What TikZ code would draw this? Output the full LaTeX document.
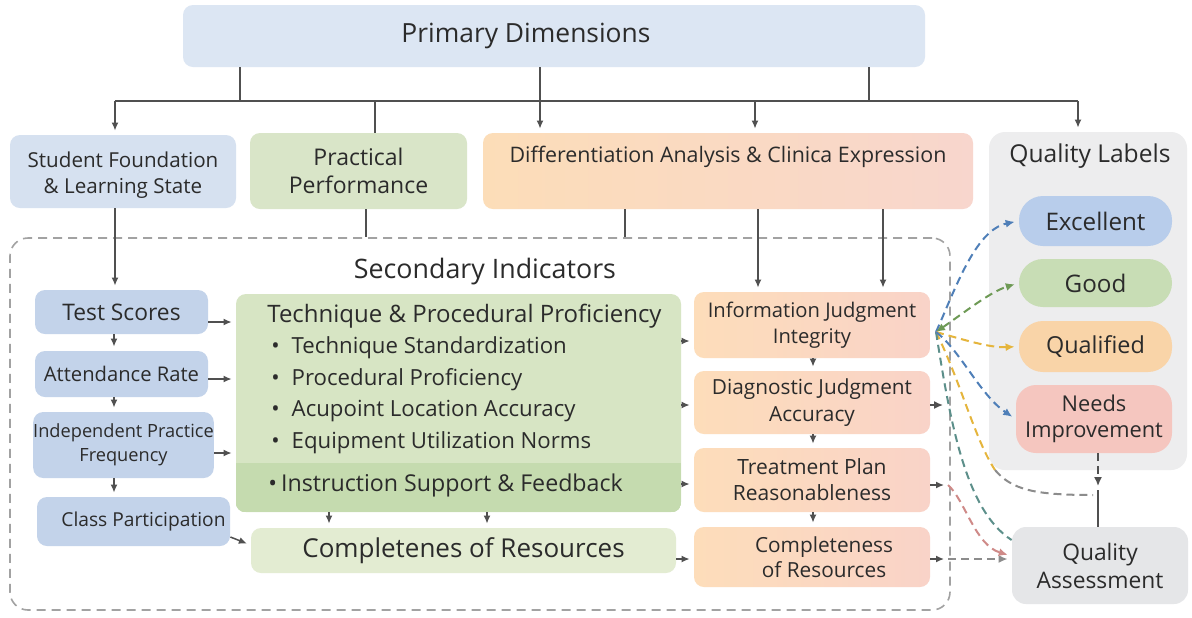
\documentclass[tikz,border=0pt]{standalone}
\usepackage{fontspec}
\setmainfont{Open Sans}
\usepackage{xcolor}
\usepackage{tikz}
\usetikzlibrary{arrows.meta, positioning}

\definecolor{ink}{HTML}{2B2B2B}
\definecolor{wire}{HTML}{505050}
\definecolor{frame}{HTML}{A2A2A2}
\definecolor{primfill}{HTML}{DCE6F3}
\definecolor{stufill}{HTML}{D6E1F0}
\definecolor{pracfill}{HTML}{D9E5C8}
\definecolor{diffL}{HTML}{FCDDB8}
\definecolor{diffR}{HTML}{F8D6CD}
\definecolor{qlfill}{HTML}{EDEDEE}
\definecolor{excfill}{HTML}{B8CDEB}
\definecolor{goodfill}{HTML}{C8DDB5}
\definecolor{qualfill}{HTML}{F9D4A8}
\definecolor{needfill}{HTML}{F5C6BF}
\definecolor{qafill}{HTML}{E5E6E8}
\definecolor{indfill}{HTML}{C3D3EA}
\definecolor{techfill}{HTML}{D7E5C4}
\definecolor{bandfill}{HTML}{C5DBAF}
\definecolor{cmpfill}{HTML}{E3ECD2}
\definecolor{oraL}{HTML}{FDDDBA}
\definecolor{oraR}{HTML}{F9D3C8}
\definecolor{blueline}{HTML}{4F7FB8}
\definecolor{greenline}{HTML}{6E9A55}
\definecolor{yellowline}{HTML}{E5B53C}
\definecolor{pinkline}{HTML}{CF8A88}
\definecolor{tealline}{HTML}{5C8F8A}
\definecolor{grayline}{HTML}{8C8C8C}

\newcommand{\fsz}[2]{\fontsize{#1}{#2}\selectfont}

\begin{document}
\begin{tikzpicture}[x=0.5pt, y=-0.5pt,
        every node/.style={text=ink},
        box/.style={rounded corners=5pt, align=center, inner sep=0pt},
        pill/.style={box, rounded corners=12pt, minimum width=76.5pt},
        orange/.style={box, left color=oraL, right color=oraR, minimum width=118pt},
        indic/.style={box, fill=indfill, minimum width=86.5pt},
        line/.style={draw=wire, line width=0.75pt},
        arr/.style={line, -{Latex[length=4pt, width=3.5pt]}, shorten >=2pt},
        dline/.style={line width=1pt, dash pattern=on 4pt off 2.5pt},
        darr/.style={dline, -{Latex[length=4.5pt, width=4pt]}, shorten >=2pt}
    ]

    \fill[white] (0,0) rectangle (1192,617);
    \useasboundingbox (0,0) rectangle (1192,617);

    % top level
    \node[box, fill=primfill, minimum width=371pt, minimum height=31pt,
          label={[xshift=-14pt, font=\fsz{13.2}{16}]center:Primary Dimensions}] (prim) at (554,36) {};

    \node[box, fill=stufill, minimum width=113pt, minimum height=36.5pt,
          label={[yshift=-2pt, align=center, font=\fsz{10.3}{13}]center:Student Foundation\\\& Learning State}] (stu) at (123,171.5) {};
    \node[box, fill=pracfill, minimum width=108.5pt, minimum height=38pt, font=\fsz{11.5}{14}] (prac) at (358.5,171) {Practical\\Performance};
    \node[box, left color=diffL, right color=diffR, minimum width=245pt, minimum height=38pt,
          label={[yshift=7pt, font=\fsz{10.7}{13}]center:Differentiation Analysis \& Clinica Expression}] (diff) at (728,171) {};

    % label column
    \node[box, fill=qlfill, rounded corners=8pt, minimum width=99pt, minimum height=169pt] (qlab) at (1088,301) {};
    \node[font=\fsz{12.3}{15}] (qltitle) at (1090,156) {Quality Labels};
    \node[pill, fill=excfill, minimum height=25pt, font=\fsz{12.1}{14}] (exc) at (1095.5,221) {Excellent};
    \node[pill, fill=goodfill, minimum height=24pt, font=\fsz{12.1}{14}] (good) at (1095.5,283) {Good};
    \node[pill, fill=qualfill, minimum height=25.5pt, font=\fsz{11.7}{14}] (qual) at (1095.5,346.5) {Qualified};
    \node[box, fill=needfill, rounded corners=10pt, minimum width=78pt, minimum height=34pt, font=\fsz{10.9}{13}] (needs) at (1094,419) {Needs\\Improvement};
    \node[box, fill=qafill, rounded corners=7pt, minimum width=88pt, minimum height=38.5pt, font=\fsz{11.4}{14}] (qa) at (1100,565.5) {Quality\\Assessment};

    % secondary block
    \node[draw=frame, line width=0.8pt, dash pattern=on 4.5pt off 3pt, rounded corners=9pt,
          minimum width=470pt, minimum height=186pt] (sec) at (480,424) {};
    \node[font=\fsz{13.4}{16}] (sectitle) at (485,272) {Secondary Indicators};

    \node[indic, minimum height=22pt, font=\fsz{11.4}{14}] (test) at (121.5,312) {Test Scores};
    \node[indic, minimum height=23pt, font=\fsz{10.1}{12}] (att) at (121.5,374) {Attendance Rate};
    \node[indic, minimum width=88.5pt, minimum height=33pt, font=\fsz{9.1}{12}] (ind) at (123.5,445) {Independent Practice\\Frequency};
    \node[indic, minimum width=96.5pt, minimum height=24.5pt, font=\fsz{9.6}{12}] (class) at (133.5,521.5) {\hspace*{10pt}Class Participation};

    \node[box, fill=techfill, minimum width=222.5pt, minimum height=109pt] (tech) at (458.5,403) {};
    \begin{scope}
        \clip[rounded corners=5pt] (tech.south west) rectangle (tech.north east);
        \fill[bandfill] (tech.south west) rectangle ([yshift=24.5pt]tech.south east);
    \end{scope}
    \node[anchor=west, inner sep=0pt, font=\fsz{12}{14}] (techtitle) at (267,316) {Technique \& Procedural Proficiency};
    \foreach \y/\t [count=\i] in {348/Technique Standardization, 380/Procedural Proficiency,
                                411/Acupoint Location Accuracy, 443/Equipment Utilization Norms}
        \node[anchor=west, inner sep=0pt, font=\fsz{11.1}{13}] (item\i) at (271,\y) {\textbullet\hspace{6pt}\t};
    \node[anchor=west, inner sep=0pt, font=\fsz{11.6}{14}] (instr) at (268,485) {\textbullet\hspace{2pt}Instruction Support \& Feedback};

    \node[box, fill=cmpfill, minimum width=212.5pt, minimum height=22.5pt, font=\fsz{13}{15}] (cmp) at (463.5,550.5) {Completenes of Resources};

    \node[orange, minimum height=33pt, font=\fsz{10.1}{13}] (info) at (812,325) {Information Judgment\\Integrity};
    \node[orange, minimum height=31.5pt, font=\fsz{10.4}{13.5}] (diag) at (812,402.5) {Diagnostic Judgment\\Accuracy};
    \node[orange, minimum height=32pt, font=\fsz{10.5}{13}] (treat) at (812,480) {Treatment Plan\\Reasonableness};
    \node[orange, minimum height=30pt, font=\fsz{10.4}{12.5}] (res) at (812,557) {\hspace*{12pt}Completeness\\\hspace*{12pt}of Resources};

    % tree under the top box
    \coordinate (busL) at (115,101);
    \coordinate (busR) at (1078,101);
    \draw[line] (busL) -- (busR);
    \draw[line] (240,0 |- prim.south) -- (240,0 |- busL);
    \draw[line] (869,0 |- prim.south) -- (869,0 |- busL);
    \draw[arr] (busL) -- (busL |- stu.north);
    \draw[line] (375,0 |- busL) -- (375,0 |- prac.north);
    \draw[arr] (540,0 |- prim.south) -- (540,0 |- diff.north);
    \draw[arr] (755,0 |- busL) -- (755,0 |- diff.north);
    \draw[arr] (busR) -- (busR |- qlab.north);

    % into the secondary block
    \draw[arr] (115,0 |- stu.south) -- (115,0 |- test.north);
    \draw[line] (366,0 |- prac.south) -- (366,0 |- sec.north);
    \draw[line] (625,0 |- diff.south) -- (625,0 |- sec.north);
    \draw[arr] (758,0 |- diff.south) -- (758,0 |- info.north);
    \draw[arr] (883,0 |- diff.south) -- (883,0 |- info.north);

    % left column
    \draw[arr] (114,0 |- test.south) -- (114,0 |- att.north);
    \draw[arr] (114,0 |- att.south) -- (114,0 |- ind.north);
    \draw[arr] (114,0 |- ind.south) -- (114,0 |- class.north);
    \draw[arr] (test.east |- 0,322) -- (tech.west |- 0,322);
    \draw[arr] (att.east |- 0,379) -- (tech.west |- 0,379);
    \draw[arr] (ind.east |- 0,453) -- (tech.west |- 0,453);
    \draw[arr] (class.east |- 0,537) -- (cmp.west |- 0,545);
    \draw[arr] (329,0 |- tech.south) -- (329,0 |- cmp.north);
    \draw[arr] (487,0 |- tech.south) -- (487,0 |- cmp.north);

    % middle to the clinical column
    \draw[arr] (tech.east |- 0,341) -- (info.west |- 0,341);
    \draw[arr] (tech.east |- 0,405) -- (diag.west |- 0,405);
    \draw[arr] (tech.east |- 0,484) -- (treat.west |- 0,484);
    \draw[arr] (cmp.east |- 0,559) -- (res.west |- 0,559);
    \draw[arr] (813,0 |- info.south) -- (813,0 |- diag.north);
    \draw[arr] (813,0 |- diag.south) -- (813,0 |- treat.north);
    \draw[arr] (813,0 |- treat.south) -- (813,0 |- res.north);

    % outputs on the right
    \coordinate (src) at (936,332);
    \coordinate (tapD) at (947,405);
    \coordinate (tapT) at (948,485);
    \coordinate (tapR) at (948,559);
    \coordinate (meet) at (1098,490);
    \coordinate (meetL) at (1093,495);

    \draw[darr, wire, line width=0.75pt] (diag.east |- tapD) -- (tapD);
    \draw[arr] (treat.east |- tapT) -- (tapT);
    \draw[arr] (res.east |- tapR) -- (tapR);
    \draw[darr, grayline] (tapR) -- (qa.west |- tapR);
    \draw[darr, pinkline] (tapT) .. controls (965,500) and (975,545) .. (qa.west |- 0,556);

    \draw[dline, yellowline] (src) .. controls (960,380) and (975,440) .. (995,470) coordinate (bend);
    \draw[dline, grayline] (bend) .. controls (1012,490) and (1035,495) .. (meetL);
    \draw[dline, tealline] (src) .. controls (950,420) and (965,510) .. (qa.west |- 0,540);
    \draw[darr, blueline] (src) .. controls (955,290) and (975,230) .. (exc.west);
    \draw[darr, greenline, {Latex[length=4.5pt, width=4pt]}-{Latex[length=4.5pt, width=4pt]}] (src) .. controls (965,312) and (990,292) .. (good.west);
    \draw[darr, yellowline] (src) .. controls (965,340) and (990,348) .. (qual.west);
    \draw[darr, blueline] (src) .. controls (960,350) and (980,395) .. (needs.west);

    \draw[darr, wire, line width=0.75pt] (1098,0 |- needs.south) -- (meet);
    \draw[line] (1098,0 |- qa.north) -- (meet);
\end{tikzpicture}
\end{document}
